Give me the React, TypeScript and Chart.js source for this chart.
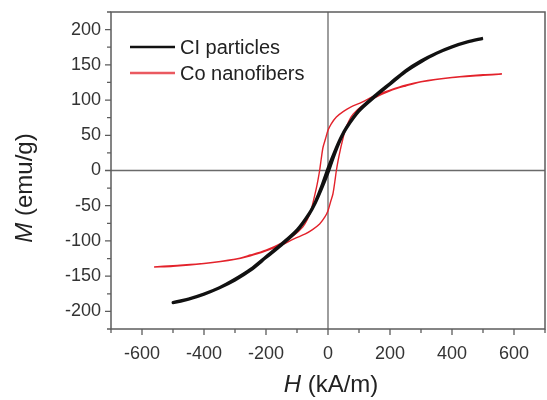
import React, { useEffect, useRef } from "react";
import { Chart, registerables } from "chart.js";

Chart.register(...registerables);

// ---- data ----
const seriesLabels = ["CI particles", "Co nanofibers"];

// CI particles: descending branch (H kA/m, M emu/g)
const ciDescH = [500, 450, 400, 350, 300, 250, 200, 150, 100, 60, 40, 20, 0, -20, -40, -60, -100, -150, -200, -250, -300, -350, -400, -450, -500];
const ciDescM = [188, 183, 176, 167, 156, 142, 124, 106, 86, 62, 46, 26, 4, -21, -43, -60, -84, -104, -122, -140, -154, -166, -175, -182, -187];
// CI particles: ascending branch
const ciAscH = [-500, -450, -400, -350, -300, -250, -200, -150, -100, -60, -40, -20, 0, 20, 40, 60, 100, 150, 200, 250, 300, 350, 400, 450, 500];
const ciAscM = [-188, -183, -176, -167, -156, -142, -124, -106, -86, -62, -46, -26, -4, 21, 43, 60, 84, 104, 122, 140, 154, 166, 175, 182, 187];

// Co nanofibers: descending branch
const coDescH = [561, 500, 400, 300, 250, 200, 150, 110, 73, 50, 27, 10, 0, -8, -16, -22, -27, -33, -39, -47, -55, -67, -81, -110, -150, -200, -250, -300, -400, -500, -561];
const coDescM = [137, 136, 132, 126, 121, 114, 106, 97, 90, 84, 76, 66, 57, 45, 33, 16, 0, -15, -28, -43, -57, -70, -80, -92, -103, -113, -120, -126, -132, -135, -137];
// Co nanofibers: ascending branch
const coAscH = [-561, -500, -400, -300, -250, -200, -150, -110, -73, -50, -27, -10, 0, 8, 16, 22, 27, 33, 39, 47, 55, 67, 81, 110, 150, 200, 250, 300, 400, 500, 561];
const coAscM = [-137, -136, -132, -126, -121, -114, -106, -97, -90, -84, -76, -66, -57, -45, -33, -16, 0, 15, 28, 43, 57, 70, 80, 92, 103, 113, 120, 126, 132, 135, 137];

const hTicks = [-600, -400, -200, 0, 200, 400, 600];
const hMinorTicks = [-700, -500, -300, -100, 100, 300, 500, 700];
const mTicks = [-200, -150, -100, -50, 0, 50, 100, 150, 200];
const mMinorTicks = [-225, -175, -125, -75, -25, 25, 75, 125, 175, 225];

const H_MIN = -700, H_MAX = 700, M_MIN = -225, M_MAX = 225;

const colors = ["#111111", "#e3222b"];
const widths = [2.6, 1.4];

function toPoints(hs: number[], ms: number[]) {
  return hs.map((h, i) => ({ x: h, y: ms[i] }));
}

const BOX = "#5c5c5c";
const TEXT = "#333333";

const framePlugin = {
  id: "frame",
  beforeDatasetsDraw(chart: any) {
    const { ctx, chartArea: a, scales } = chart;
    const xs = scales.x, ys = scales.y;
    ctx.save();
    ctx.strokeStyle = "#6a6a6a";
    ctx.lineWidth = 1.3;
    const x0 = xs.getPixelForValue(0);
    const y0 = ys.getPixelForValue(0);
    ctx.beginPath();
    ctx.moveTo(x0, a.top); ctx.lineTo(x0, a.bottom);
    ctx.moveTo(a.left, y0); ctx.lineTo(a.right, y0);
    ctx.stroke();
    // box
    ctx.strokeStyle = BOX;
    ctx.lineWidth = 1.5;
    ctx.strokeRect(a.left, a.top, a.right - a.left, a.bottom - a.top);
    // ticks
    ctx.lineWidth = 1.3;
    ctx.beginPath();
    hTicks.forEach((v) => { const p = xs.getPixelForValue(v); ctx.moveTo(p, a.bottom); ctx.lineTo(p, a.bottom + 6); });
    hMinorTicks.forEach((v) => { const p = xs.getPixelForValue(v); ctx.moveTo(p, a.bottom); ctx.lineTo(p, a.bottom + 4); });
    mTicks.forEach((v) => { const p = ys.getPixelForValue(v); ctx.moveTo(a.left, p); ctx.lineTo(a.left - 6, p); });
    mMinorTicks.forEach((v) => { const p = ys.getPixelForValue(v); ctx.moveTo(a.left, p); ctx.lineTo(a.left - 4, p); });
    ctx.stroke();
    ctx.restore();
  },
  afterDraw(chart: any) {
    const { ctx, chartArea: a } = chart;
    ctx.save();
    // legend
    ctx.font = '20px "Liberation Sans", Arial, sans-serif';
    ctx.textBaseline = "middle";
    ctx.textAlign = "left";
    seriesLabels.forEach((lab, i) => {
      const y = a.top + 35 + i * 26;
      ctx.strokeStyle = colors[i];
      ctx.lineWidth = 2.6;
      ctx.globalAlpha = i === 0 ? 1 : 0.75;
      ctx.beginPath();
      ctx.moveTo(a.left + 19, y);
      ctx.lineTo(a.left + 64, y);
      ctx.stroke();
      ctx.globalAlpha = 1;
      ctx.fillStyle = "#222";
      ctx.fillText(lab, a.left + 69, y + 1);
    });
    // axis titles
    const fs = 24;
    const it = `italic ${fs}px "Liberation Sans", Arial, sans-serif`;
    const nf = `${fs}px "Liberation Sans", Arial, sans-serif`;
    ctx.fillStyle = "#222";
    const drawMixed = (a1: string, b1: string, cx: number, cy: number) => {
      ctx.font = it; const w1 = ctx.measureText(a1).width;
      ctx.font = nf; const w2 = ctx.measureText(b1).width;
      const sx = cx - (w1 + w2) / 2;
      ctx.font = it; ctx.fillText(a1, sx, cy);
      ctx.font = nf; ctx.fillText(b1, sx + w1, cy);
    };
    ctx.textAlign = "left";
    ctx.textBaseline = "middle";
    drawMixed("H", " (kA/m)", 331, 385);
    ctx.translate(25, 188);
    ctx.rotate(-Math.PI / 2);
    drawMixed("M", " (emu/g)", 0, 0);
    ctx.restore();
  },
};

export default function App() {
  const ref = useRef<HTMLCanvasElement>(null);
  useEffect(() => {
    document.body.style.margin = "0";
    const ctx = ref.current!.getContext("2d")!;
    const tickFont = { family: '"Liberation Sans", Arial, sans-serif', size: 18 };
    const chart = new Chart(ctx, {
      type: "scatter",
      data: {
        datasets: [
          {
            label: seriesLabels[0],
            data: [...toPoints(ciDescH, ciDescM), ...toPoints(ciAscH, ciAscM)],
            showLine: true,
            borderColor: colors[0],
            borderWidth: widths[0],
            pointRadius: 0,
            tension: 0.3,
            fill: false,
          },
          {
            label: seriesLabels[1],
            data: [...toPoints(coDescH, coDescM), ...toPoints(coAscH, coAscM)],
            showLine: true,
            borderColor: colors[1],
            borderWidth: widths[1],
            pointRadius: 0,
            tension: 0.3,
            fill: false,
          },
        ],
      },
      options: {
        animation: false,
        responsive: false,
        maintainAspectRatio: false,
        layout: { padding: { top: 12, right: 2, left: 0, bottom: 0 } },
        plugins: { legend: { display: false }, tooltip: { enabled: false } },
        scales: {
          x: {
            type: "linear",
            min: H_MIN,
            max: H_MAX,
            grid: { display: false, drawTicks: false },
            border: { display: false },
            afterBuildTicks: (s: any) => { s.ticks = hTicks.map((v) => ({ value: v })); },
            afterFit: (s: any) => { s.height = 71; s.paddingLeft = 0; s.paddingRight = 0; },
            ticks: { color: TEXT, font: tickFont, padding: 14, maxRotation: 0, autoSkip: false },
          },
          y: {
            type: "linear",
            min: M_MIN,
            max: M_MAX,
            grid: { display: false, drawTicks: false },
            border: { display: false },
            afterBuildTicks: (s: any) => { s.ticks = mTicks.map((v) => ({ value: v })); },
            afterFit: (s: any) => { s.width = 111; s.paddingTop = 0; s.paddingBottom = 0; },
            ticks: { color: TEXT, font: tickFont, padding: 10, autoSkip: false },
          },
        },
      },
      plugins: [framePlugin],
    } as any);
    return () => chart.destroy();
  }, []);
  return (
    <div style={{ position: "relative", width: 547, height: 400, background: "#fff" }}>
      <canvas ref={ref} width={547} height={400} style={{ width: 547, height: 400, display: "block" }} />
    </div>
  );
}
